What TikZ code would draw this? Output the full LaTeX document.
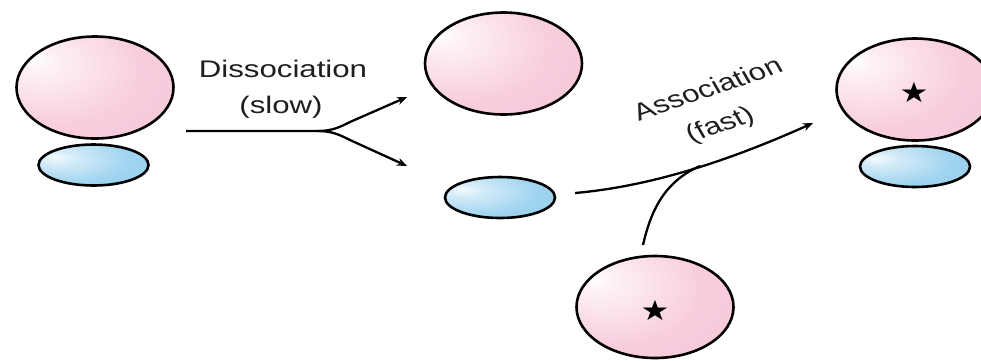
\documentclass[tikz,border=0pt]{standalone}
\usepackage{fontspec}
\setmainfont{Liberation Sans}
\newfontfamily\symfont{DejaVu Sans}
\usetikzlibrary{shapes.geometric,arrows.meta}
\definecolor{pinkc}{RGB}{248,205,222}
\definecolor{pinkedge}{RGB}{245,196,214}
\definecolor{bluec}{RGB}{160,212,240}
\definecolor{blueedge}{RGB}{140,200,234}
\definecolor{txt}{RGB}{30,30,30}
\pgfdeclareradialshading{pinkshade}{\pgfpoint{-20bp}{14bp}}{%
  color(0bp)=(white); color(6bp)=(white!70!pinkc); color(28bp)=(pinkc); color(60bp)=(pinkedge); color(80bp)=(pinkedge)}
\pgfdeclareradialshading{blueshade}{\pgfpoint{-18bp}{10bp}}{%
  color(0bp)=(white!90!bluec); color(8bp)=(white!55!bluec); color(28bp)=(bluec); color(60bp)=(blueedge); color(80bp)=(blueedge)}
\tikzset{
  bigmol/.style={ellipse, draw=black, line width=2.6pt, minimum width=157pt, minimum height=102pt, inner sep=0pt, shading=pinkshade},
  smallmol/.style={ellipse, draw=black, line width=2.6pt, minimum width=110pt, minimum height=41pt, inner sep=0pt, shading=blueshade},
  lbl/.style={font=\fontsize{24}{36}\selectfont, text=txt, inner sep=0pt, align=center},
  starmark/.style={font=\symfont\fontsize{28}{28}\selectfont, inner sep=0pt, xscale=1.15},
  arr/.style={line width=2.3pt, draw=black, -{Stealth[length=10pt,width=8pt]}},
  link/.style={line width=2.3pt, draw=black},
}
\begin{document}
\begin{tikzpicture}[x=1pt,y=-1pt]
\clip (0,0) rectangle (981,360);
% molecules
\node[smallmol] (B) at (93.5,165) {};
\node[bigmol] (A) at (95,87.5) {};
\node[bigmol] (C) at (503.5,63.5) {};
\node[smallmol] (D) at (500,197.5) {};
\node[smallmol] (F) at (915,166.5) {};
\node[bigmol] (E) at (915,89.5) {};
\node[starmark] (sE) at (914,92) {★};
\node[bigmol] (G) at (655,307) {};
\node[starmark] (sG) at (655,310) {★};
% labels
\node[lbl, xscale=1.3] (dis) at (283,69) {Dissociation};
\node[lbl, xscale=1.3] (slow) at (281,107) {(slow)};
\node[lbl, xscale=1.3, rotate=24] (ass) at (718,107) {Association\\\hspace*{-12pt}(fast)};
% dissociation arrows
\coordinate (d0) at (186,131);
\coordinate (fork) at (318,131);
\coordinate (d1) at (407,97);
\coordinate (d2) at (407,166);
\draw[arr] (d0) -- (fork) .. controls (332,131) and (340,127) .. (350,122) -- (d1);
\draw[arr] (fork) .. controls (332,131) and (340,135) .. (350,140) -- (d2);
% association arrows
\coordinate (a0) at (575,193);
\coordinate (a1) at (813,123);
\coordinate (j0) at (643,245);
\coordinate (j1) at (700,166);
\draw[arr] (a0) .. controls (655,186) and (735,158) .. (a1);
\draw[link] (j0) .. controls (652,205) and (668,180) .. (j1);
\end{tikzpicture}
\end{document}
